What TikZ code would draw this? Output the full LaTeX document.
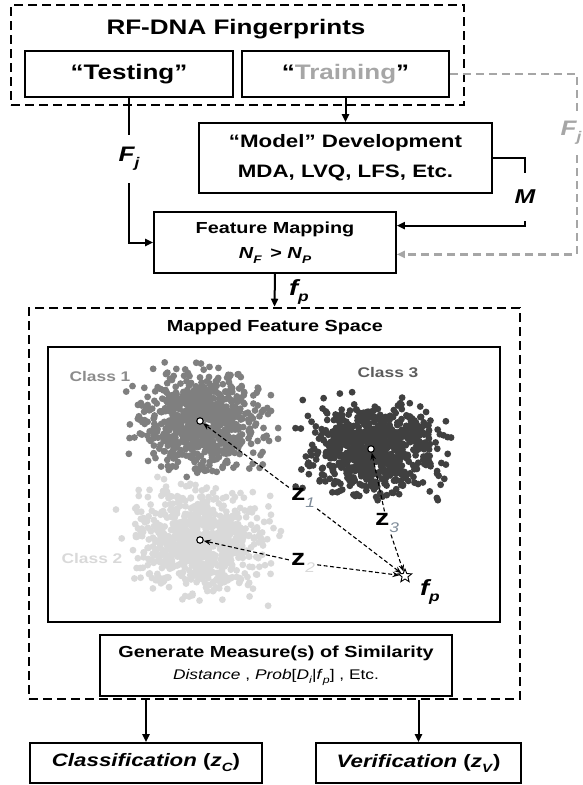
\documentclass[tikz,border=0pt]{standalone}
\usepackage{fontspec}
\setmainfont{Liberation Sans}[FakeStretch=1.24]
\usetikzlibrary{arrows.meta,shapes.geometric,calc}
\definecolor{trgray}{HTML}{A6A6A6}
\definecolor{cone}{HTML}{7F7F7F}
\definecolor{ctwo}{HTML}{D9D9D9}
\definecolor{cthree}{HTML}{404040}
\definecolor{zsub}{HTML}{7F8C99}
\newcommand\myfs[1]{\fontsize{#1}{#1}\selectfont}
\newcommand\lowtxt[2]{\raisebox{-0.28em}{\fontsize{#1}{#1}\selectfont #2}}
\begin{document}
\begin{tikzpicture}[x=1pt,y=-1pt,
  box/.style={draw, line width=1.6pt, inner sep=0pt},
  dbox/.style={draw, line width=2.6pt, dash pattern=on 9pt off 5pt, inner sep=0pt},
  conn/.style={line width=2pt},
  arr/.style={line width=2pt, -{Triangle[length=8pt,width=7pt]}},
  gconn/.style={trgray, line width=2.3pt, dash pattern=on 8pt off 5pt},
  garr/.style={gconn, -{Triangle[length=8pt,width=7pt]}},
  dz/.style={line width=1.1pt, dash pattern=on 4pt off 2.5pt, -{Stealth[length=7pt,width=5.5pt]}},
  lbl/.style={inner sep=0pt, font=\myfs{21}\bfseries\itshape},
  cen/.style={circle, draw, fill=white, line width=1.1pt, minimum size=6.5pt, inner sep=0pt},
  zl/.style={inner sep=2pt, font=\myfs{23}\bfseries}
]
\useasboundingbox (0,0) rectangle (582,785);

% top group
\node[dbox, minimum width=453pt, minimum height=100pt] (top) at (237.5,55) {};
\node[font=\myfs{21}\bfseries] (title) at (236,29) {RF-DNA Fingerprints};
\node[box, minimum width=208pt, minimum height=46pt, font=\myfs{21}\bfseries] (test) at (129,74) {“Testing”};
\node[box, minimum width=207pt, minimum height=46pt, font=\myfs{21}\bfseries] (train) at (345.5,74) {“\textcolor{trgray}{Training}”};

% model
\node[box, minimum width=293pt, minimum height=70pt, align=center, font=\fontsize{18}{30}\selectfont\bfseries] (model) at (345.5,158) {“Model” Development\\MDA, LVQ, LFS, Etc.};

% feature mapping
\node[box, minimum width=242pt, minimum height=61pt, align=center, font=\fontsize{16}{25}\selectfont\bfseries] (fm) at (275,242.5) {Feature Mapping\\\textit{N}\lowtxt{11}{\textit{F}} \,{>} \textit{N}\lowtxt{11}{\textit{P}}};

% labels on connectors
\node[lbl, minimum height=48pt] (Fj) at (129,159) {F\lowtxt{14}{j}};
\node[lbl, minimum height=48pt, font=\myfs{20}\bfseries\itshape] (M) at (525,197) {M};
\node[lbl, minimum height=44pt, text=trgray] (Fjg) at (571,133) {F\lowtxt{14}{j}};
\node[lbl, font=\myfs{22}\bfseries\itshape] (fpl) at (299,292) {f\lowtxt{14}{p}};

% connectors top
\draw[conn] (test.south) -- (Fj.north);
\draw[arr] (Fj.south) |- (fm.west);
\draw[arr] (train.south) -- (model.north);
\draw[conn] (model.east) -| (M.north);
\draw[arr] (M.south) |- ($(fm.north east)!0.23!(fm.south east)$);
\draw[gconn] (train.east) -| ($(Fjg.north)+(6,0)$);
\draw[garr] ($(Fjg.south)+(6,0)$) |- ($(fm.north east)!0.69!(fm.south east)$);

% big dashed group
\node[dbox, minimum width=491pt, minimum height=391pt] (big) at (274.5,503.5) {};
\draw[arr] (fm.south) -- (big.north);
\node[font=\myfs{16}\bfseries] (mtitle) at (275,327) {Mapped Feature Space};
\node[box, minimum width=452pt, minimum height=275pt] (inner) at (274,484.5) {};

% clusters
\pgfmathsetseed{7}
\foreach \i in {1,...,800}{
  \pgfmathsetmacro\dx{31*(rand+rand+rand)}
  \pgfmathsetmacro\dy{24*(rand+rand+rand)}
  \fill[ctwo] (200+\dx,540+\dy) circle[radius=3.4pt];
}
\foreach \i in {1,...,800}{
  \pgfmathsetmacro\dx{29*(rand+rand+rand)}
  \pgfmathsetmacro\dy{23*(rand+rand+rand)}
  \fill[cone] (200+\dx,421+\dy) circle[radius=3.4pt];
}
\foreach \i in {1,...,800}{
  \pgfmathsetmacro\dx{29*(rand+rand+rand)}
  \pgfmathsetmacro\dy{21*(rand+rand+rand)}
  \fill[cthree] (374+\dx,447+\dy) circle[radius=3.4pt];
}

\node[font=\myfs{14}\bfseries, text=cone!90] (cl1) at (100,376) {Class 1};
\node[font=\myfs{14}\bfseries, text=cthree!85] (cl3) at (388,372) {Class 3};
\node[font=\myfs{14}\bfseries, text=ctwo] (cl2) at (92,558) {Class 2};

\node[cen] (c1) at (200,421) {};
\node[cen] (c2) at (200,540) {};
\node[cen] (c3) at (371,449) {};
\node[star, star points=5, star point ratio=2.3, draw, fill=white, line width=0.9pt, minimum size=14pt, inner sep=0pt] (star) at (405,576) {};
\node[lbl, font=\myfs{22}\bfseries\itshape] (fps) at (430,592) {f\lowtxt{14}{p}};

\node[zl] (z1) at (303,498) {z\lowtxt{14}{\mdseries\itshape\color{zsub}1}};
\node[zl] (z2) at (303,563) {z\lowtxt{14}{\mdseries\itshape\color{ctwo}2}};
\node[zl] (z3) at (387,523) {z\lowtxt{14}{\mdseries\itshape\color{zsub}3}};

\draw[dz] (z1) -- (c1);
\draw[dz] (z1) -- (star);
\draw[dz] (z2) -- (c2);
\draw[dz] (z2) -- (star);
\draw[dz] (z3) -- (c3);
\draw[dz] (z3) -- (star);

% similarity
\node[box, minimum width=352pt, minimum height=61pt, align=center, font=\fontsize{16}{22}\selectfont\bfseries] (gen) at (276,665.5) {Generate Measure(s) of Similarity\\\mdseries\myfs{14}\textit{Distance} , \textit{Prob}[\textit{D}\lowtxt{10}{\textit{i}}|\textit{f}\lowtxt{10}{\textit{p}}] , Etc.};

% outputs
\node[box, minimum width=232pt, minimum height=40pt, font=\myfs{18}\bfseries] (cls) at (146,763) {\textit{Classification} (\textit{z}\lowtxt{12}{\textit{C}})};
\node[box, minimum width=205pt, minimum height=40pt, font=\myfs{18}\bfseries] (ver) at (418.5,763) {\textit{Verification} (\textit{z}\lowtxt{12}{\textit{V}})};
\draw[arr] (big.south -| cls.north) -- (cls.north);
\draw[arr] (big.south -| ver.north) -- (ver.north);
\end{tikzpicture}
\end{document}
